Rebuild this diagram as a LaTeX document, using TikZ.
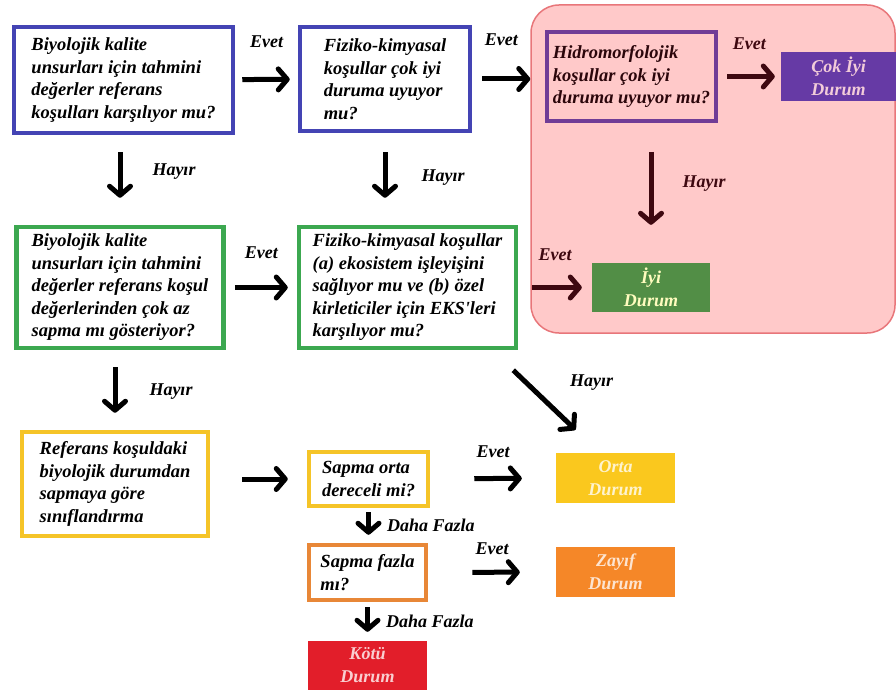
\documentclass[tikz,border=0pt]{standalone}
\usepackage{fontspec}
\setmainfont{Liberation Serif}[Ligatures=TeXOff]
\usepackage{xcolor}
\usetikzlibrary{arrows.meta,positioning}

\definecolor{blueq}{RGB}{68,68,180}
\definecolor{greenq}{RGB}{60,168,80}
\definecolor{yellowq}{RGB}{245,196,40}
\definecolor{orangeq}{RGB}{232,135,55}
\definecolor{purpleq}{RGB}{112,60,150}
\definecolor{zonefill}{RGB}{255,201,201}
\definecolor{zoneline}{RGB}{232,118,122}
\definecolor{maroonq}{RGB}{62,8,16}
\definecolor{cokiyifill}{RGB}{102,58,165}
\definecolor{iyifill}{RGB}{82,142,70}
\definecolor{ortafill}{RGB}{250,200,30}
\definecolor{zayiffill}{RGB}{245,135,40}
\definecolor{kotufill}{RGB}{226,30,42}

\tikzset{
  question/.style={draw=#1, line width=4.5pt, fill=white, align=left, inner sep=0pt},
  state/.style={fill=#1, text=#1!22!white, align=center, inner sep=0pt,
    font=\bfseries\itshape\fontsize{18}{23}\selectfont},
  zone/.style={draw=zoneline, line width=1.5pt, fill=zonefill, rounded corners=28pt, inner sep=0pt},
  arr/.style={line width=5pt, -{Straight Barb[length=9pt,width=21pt,round]}},
  lbl/.style={inner sep=0pt, font=\bfseries\itshape\fontsize{18}{20}\selectfont},
}

\begin{document}
\begin{tikzpicture}[x=1pt, y=-1pt, every node/.style={font=\bfseries\itshape\fontsize{18.5}{22.5}\selectfont}]
  \useasboundingbox (0,0) rectangle (896,695);

  % hidromorfolojik bolge
  \node[zone, minimum width=364pt, minimum height=328pt] (zone) at (713,169) {};

  % ilk satir
  \node[question=blueq, minimum width=219pt, minimum height=106pt] (bio1) at (123.5,80)
    {Biyolojik kalite\\unsurları için tahmini\\değerler referans\\koşulları karşılıyor mu?};
  \node[question=blueq, minimum width=170pt, minimum height=104pt] (fiz1) at (385,79)
    {Fiziko-kimyasal\\koşullar çok iyi\\duruma uyuyor\\mu?};
  \node[question=purpleq, line width=4pt, fill=zonefill, text=maroonq!70!black,
    minimum width=169pt, minimum height=89pt] (hidro) at (631.5,76.5)
    {Hidromorfolojik\\koşullar çok iyi\\duruma uyuyor mu?};
  \node[state=cokiyifill, text=purple!20!white, minimum width=115pt, minimum height=49pt] (cokiyi) at (838.5,76.5)
    {Çok İyi\\Durum};

  % ikinci satir
  \node[question=greenq, minimum width=207pt, minimum height=121pt] (bio2) at (120,287.5)
    {Biyolojik kalite\\unsurları için tahmini\\değerler referans koşul\\değerlerinden çok az\\sapma mı gösteriyor?};
  \node[question=greenq, minimum width=217pt, minimum height=121pt] (fiz2) at (407.5,287.5)
    {Fiziko-kimyasal koşullar\\(a) ekosistem işleyişini\\sağlıyor mu ve (b) özel\\kirleticiler için EKS'leri\\karşılıyor mu?};
  \node[state=iyifill, text=yellow!25!white, minimum width=118pt, minimum height=49pt] (iyi) at (651,287.5)
    {İyi\\Durum};

  % siniflandirma
  \node[question=yellowq, minimum width=186pt, minimum height=104pt] (ref) at (115,484)
    {Referans koşuldaki\\biyolojik durumdan\\sapmaya göre\\sınıflandırma};
  \node[question=yellowq, minimum width=119pt, minimum height=54pt] (sapma1) at (368.5,479)
    {Sapma orta\\dereceli mi?};
  \node[question=orangeq, minimum width=117pt, minimum height=55pt] (sapma2) at (367.5,572.5)
    {Sapma fazla\\mı?};
  \node[state=ortafill, minimum width=119pt, minimum height=50pt] (orta) at (615.5,478) {Orta\\Durum};
  \node[state=zayiffill, minimum width=119pt, minimum height=50pt] (zayif) at (615.5,572) {Zayıf\\Durum};
  \node[state=kotufill, minimum width=119pt, minimum height=49pt] (kotu) at (367.5,665.5) {Kötü\\Durum};

  % oklar
  \draw[arr, shorten <=7pt, shorten >=8pt] (bio1) -- (fiz1) node[lbl, midway, above=29pt] {Evet};
  \draw[arr, shorten <=10pt] (fiz1.east) -- (fiz1.east -| zone.west) node[lbl, midway, above=31pt] {Evet};
  \draw[arr, maroonq, shorten <=9pt, shorten >=6pt] (hidro) -- (cokiyi) node[lbl, midway, above=24pt] {Evet};
  \draw[arr, maroonq, shorten <=29pt, shorten >=38pt] (iyi.north |- hidro.south) -- (iyi.north)
    node[lbl, pos=0.43, right=29pt] {Hayır};
  \draw[arr, maroonq, shorten <=14pt, shorten >=10pt] (fiz2) -- (iyi) node[lbl, midway, above=24pt] {Evet};

  \draw[arr, shorten <=17pt, shorten >=27pt] (bio1.south -| bio2) -- (bio2.north)
    node[lbl, pos=0.41, right=30pt] {Hayır};
  \draw[arr, shorten <=19pt, shorten >=27pt] (fiz1.south) -- (fiz1.south |- fiz2.north)
    node[lbl, pos=0.48, right=34pt] {Hayır};
  \draw[arr, shorten <=9pt, shorten >=9pt] (bio2) -- (fiz2) node[lbl, midway, above=26pt] {Evet};
  \draw[arr, shorten <=17pt, shorten >=17pt] (bio2.south -| ref) -- (ref.north)
    node[lbl, pos=0.52, right=32pt] {Hayır};
  \draw[arr] ([shift={(-5,20)}]fiz2.south east) -- ([shift={(-40,-23)}]orta.north)
    node[lbl, pos=0.2, right=42pt] {Hayır};

  \draw[arr, shorten <=32pt, shorten >=19pt] (ref.east |- sapma1.west) -- (sapma1.west);
  \draw[arr, shorten <=44pt, shorten >=34pt] (sapma1) -- (orta) node[lbl, midway, above=18pt] {Evet};
  \draw[arr, shorten <=4pt, shorten >=8pt] (sapma1.south) -- (sapma1.south |- sapma2.north)
    node[lbl, midway, right=16pt] {Daha Fazla};
  \draw[arr, shorten <=44pt, shorten >=36pt] (sapma2) -- (zayif) node[lbl, midway, above=15pt] {Evet};
  \draw[arr, shorten <=5pt, shorten >=9pt] (sapma2.south) -- (sapma2.south |- kotu.north)
    node[lbl, midway, right=16pt] {Daha Fazla};
\end{tikzpicture}
\end{document}
